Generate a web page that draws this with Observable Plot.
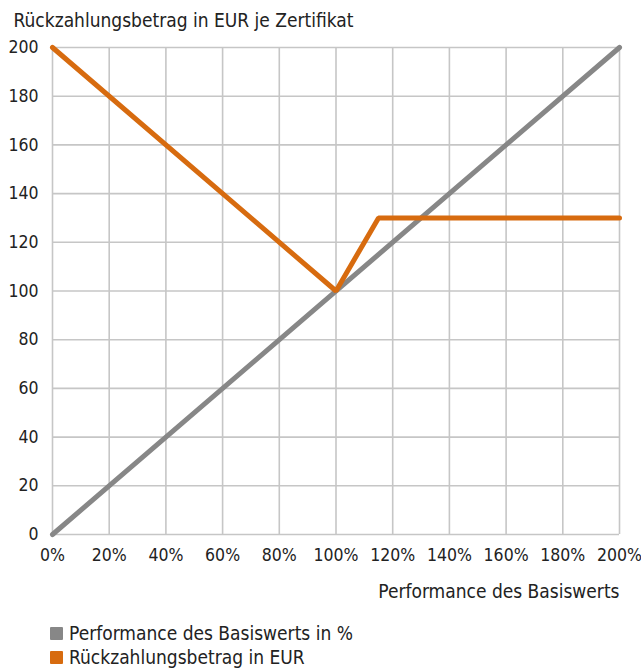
<!DOCTYPE html>
<html>
<head>
<meta charset="utf-8">
<script src="https://cdn.jsdelivr.net/npm/d3@7"></script>
<script src="https://cdn.jsdelivr.net/npm/@observablehq/plot@0.6"></script>
<style>
  body { margin: 0; background: #fff; }
  #wrap { position: relative; width: 641px; height: 670px; font-family: "Liberation Sans Narrow", "DejaVu Sans Condensed", "Roboto", sans-serif; color: #222; }
  #legend { position: absolute; left: 50px; top: 621px; font-size: 19px; line-height: 24px; }
  .item { display: flex; align-items: center; }
  .sw { width: 13px; height: 13px; margin-right: 6px; border-radius: 1px; }
</style>
</head>
<body>
<div id="wrap"><div id="legend"></div></div>
<script>
const xTicks = [0, 20, 40, 60, 80, 100, 120, 140, 160, 180, 200];
const yTicks = [0, 20, 40, 60, 80, 100, 120, 140, 160, 180, 200];
const perfX = [0, 200];
const perfY = [0, 200];
const payX = [0, 100, 115, 200];
const payY = [200, 100, 130, 130];
const seriesNames = ["Performance des Basiswerts in %", "Rückzahlungsbetrag in EUR"];
const seriesColors = ["#878787", "#d76b0f"];
const title = "Rückzahlungsbetrag in EUR je Zertifikat";
const xLabel = "Performance des Basiswerts";

const perf = perfX.map((x, i) => ({x, y: perfY[i]}));
const pay = payX.map((x, i) => ({x, y: payY[i]}));

const chart = Plot.plot({
  width: 641,
  height: 610,
  marginLeft: 52,
  marginRight: 22,
  marginTop: 47,
  marginBottom: 76,
  style: {fontFamily: '"Liberation Sans Narrow", "DejaVu Sans Condensed", sans-serif', fontSize: "17px", color: "#222", background: "#fff"},
  x: {domain: [0, 200]},
  y: {domain: [0, 200]},
  marks: [
    Plot.gridX(xTicks, {stroke: "#c6c6c6", strokeOpacity: 1, strokeWidth: 1.6}),
    Plot.gridY(yTicks, {stroke: "#c6c6c6", strokeOpacity: 1, strokeWidth: 1.6}),
    Plot.axisX({ticks: xTicks, tickSize: 0, tickPadding: 14, tickFormat: d => d + "%", label: null, fontSize: 17.5}),
    Plot.axisY({ticks: yTicks, tickSize: 0, tickPadding: 14, label: null, fontSize: 17.5}),
    Plot.line(perf, {x: "x", y: "y", stroke: seriesColors[0], strokeWidth: 5}),
    Plot.line(pay, {x: "x", y: "y", stroke: seriesColors[1], strokeWidth: 5, strokeLinecap: "round", strokeLinejoin: "miter"}),
    Plot.text([title], {text: d => d, frameAnchor: "top-left", textAnchor: "start", lineAnchor: "bottom", dx: -39, dy: -21, fontSize: 19, fill: "#222"}),
    Plot.text([xLabel], {text: d => d, frameAnchor: "bottom-right", textAnchor: "end", lineAnchor: "bottom", dx: 0, dy: 63, fontSize: 19, fill: "#222"})
  ]
});
const wrap = document.getElementById("wrap");
wrap.insertBefore(chart, wrap.firstChild);

const legend = document.getElementById("legend");
seriesNames.forEach((n, i) => {
  const d = document.createElement("div");
  d.className = "item";
  d.innerHTML = `<span class="sw" style="background:${seriesColors[i]}"></span><span>${n}</span>`;
  legend.appendChild(d);
});
</script>
</body>
</html>
